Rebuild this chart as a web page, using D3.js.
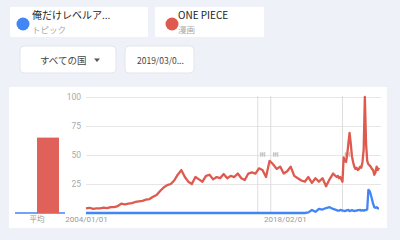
<!DOCTYPE html>
<html><head><meta charset="utf-8">
<script src="https://cdn.jsdelivr.net/npm/d3@7"></script>
<style>
html,body{margin:0;padding:0;background:#eef1f8;}
svg{display:block;}
</style></head>
<body>
<svg id="c" width="400" height="240"></svg>
<script>
// ---------- data ----------
const dates = [
 "2004-01","2004-04","2004-07","2004-10","2005-01","2005-04","2005-07","2005-10",
 "2006-01","2006-04","2006-07","2006-10","2007-01","2007-04","2007-07","2007-10",
 "2008-01","2008-04","2008-07","2008-10","2009-01","2009-04","2009-07","2009-10",
 "2010-01","2010-04","2010-07","2010-10","2011-01","2011-04","2011-07","2011-10",
 "2012-01","2012-04","2012-07","2012-10","2013-01","2013-04","2013-07","2013-10",
 "2014-01","2014-04","2014-07","2014-10","2015-01","2015-04","2015-07","2015-10",
 "2016-01","2016-04","2016-07","2016-10","2017-01","2017-04","2017-07","2017-10",
 "2018-01","2018-04","2018-07","2018-10","2019-01","2019-04","2019-07","2019-10",
 "2020-01","2020-04","2020-07","2020-10","2021-01","2021-04","2021-07",
 "2021-10","2021-11","2021-12",
 "2022-01","2022-02","2022-03","2022-04","2022-05","2022-06","2022-07","2022-08","2022-09","2022-10","2022-11","2022-12",
 "2023-01","2023-02","2023-03","2023-04","2023-05","2023-06","2023-07","2023-08","2023-09","2023-10","2023-11","2023-12",
 "2024-01","2024-02","2024-03","2024-04","2024-05","2024-06","2024-07","2024-08","2024-09","2024-10"
];
const onePiece = [
 4,4.5,3.5,4, 4,4.6,4.2,5, 5,6,8,7.5, 8,8.5,9.5,10, 10.5,11.5,12,14,
 15.5,19,22,24, 25,28,33,37, 31,27,25,31, 29,27,32,33, 29,31,30,33.6,
 30,32,31,34, 30,28.5,34,35, 34,38.5,37,31, 45,42,38,40, 34,36,40,32,
 30,28,27,31, 26,30,27,30, 23,29,34,
 31,32,30,
 31,29,27,48,45,44,50,60,69,60,49,44,
 40,38,39,37,38,40,39,44,55,100,60,45,
 42,41,40,38,37,33,35,40,37,39
];
const soloLeveling = [
 0,0,0,0, 0,0,0,0, 0,0,0,0, 0,0,0,0, 0,0,0,0,
 0,0,0,0, 0,0,0,0, 0,0,0,0, 0,0,0,0, 0,0,0,0,
 0,0,0,0, 0,0,0,0, 0,0,0,0, 0,0,0,0, 0,0,0,0,
 0,0,0,0.5, 2.6,1,3.5,3, 4.3,5,3.5,
 2.5,2,2,
 2.6,2.5,2,2,1.7,2,2.5,2.6,1.7,2,2.5,2,
 1.7,2,2,2.5,2.5,2.6,2,2.5,2,2.5,2.6,3,
 20,19,16,12,8,5,4.5,5,4,4
];
const seriesNames = ["俺だけレベルア...", "ONE PIECE"];
const seriesTypes = ["トピック", "漫画"];
const seriesColors = ["#4285f4", "#de5a4e"];
const averages = [0, 65];
const avgLabel = "平均";
const yTicks = [25, 50, 75, 100];
const xTickDates = ["2004-01-01", "2018-02-01"];
const noteDates = ["2016-03-01", "2017-02-01", "2022-03-01"];
const filterLabels = ["すべての国", "2019/03/0..."];

// ---------- drawing ----------
const svg = d3.select("#c");
const parseM = d3.timeParse("%Y-%m");
const parseD = d3.timeParse("%Y-%m-%d");
const fmt = d3.timeFormat("%Y/%m/%d");
const jp = "'Noto Sans CJK JP', Roboto, sans-serif";

// legend cards
const cardX = [10, 155], cardW = [138, 109];
seriesNames.forEach((n, i) => {
  const g = svg.append("g").attr("transform", `translate(${cardX[i]},7)`);
  g.append("rect").attr("width", cardW[i]).attr("height", 30).attr("fill", "#fff").attr("rx", 1);
  g.append("circle").attr("cx", 13 + (i ? 4 : 0)).attr("cy", 17).attr("r", 6.5).attr("fill", seriesColors[i]);
  g.append("text").attr("x", 22 + (i ? 1 : 0)).attr("y", 12).attr("font-family", jp).attr("font-size", 10)
    .attr("fill", "#222").text(n);
  g.append("text").attr("x", 22 + (i ? 1 : 0)).attr("y", 26).attr("font-family", jp).attr("font-size", 8.5)
    .attr("fill", "#aaa").text(seriesTypes[i]);
});

// filter chips
const chipX = [20, 125], chipW = [96, 69];
filterLabels.forEach((t, i) => {
  const g = svg.append("g").attr("transform", `translate(${chipX[i]},46)`);
  g.append("rect").attr("width", chipW[i]).attr("height", 27).attr("rx", 4)
    .attr("fill", "#fff").attr("stroke", "#e3e5ea");
  g.append("text").attr("x", i ? 12 : 20).attr("y", 17.5).attr("font-family", jp)
    .attr("font-size", i ? 8.5 : 9.5).attr("fill", "#444").text(t);
  if (i === 0) g.append("path").attr("d", "M74,12.5 L80,12.5 L77,16 Z").attr("fill", "#555");
});

// chart card
svg.append("rect").attr("x", 9).attr("y", 87).attr("width", 378).attr("height", 141).attr("fill", "#fff");

const x = d3.scaleTime().domain([parseM("2004-01"), parseM("2024-10")]).range([86, 379]);
const y = d3.scaleLinear().domain([0, 100]).range([213, 97]);

// y axis + gridlines
const yAx = svg.append("g").attr("transform", "translate(86,0)")
  .call(d3.axisLeft(y).tickValues(yTicks).tickSize(-295).tickPadding(5));
yAx.select(".domain").remove();
yAx.selectAll("line").attr("stroke", "#e6e6e6");
yAx.selectAll("text").attr("fill", "#aaa").attr("font-family", "Roboto, sans-serif").attr("font-size", 8.5);

// note lines
noteDates.forEach(d => {
  const xx = x(parseD(d));
  svg.append("line").attr("x1", xx).attr("x2", xx).attr("y1", 96).attr("y2", 213)
    .attr("stroke", "#ddd");
  svg.append("path").attr("d", `M${xx+2},154 h5 M${xx+3},152 v5 M${xx+5},152 v5 M${xx+7},152 v5`)
    .attr("stroke", "#aaa").attr("stroke-width", 0.7).attr("fill", "none");
});

// x axis labels
const xAx = svg.append("g").attr("transform", "translate(0,213)")
  .call(d3.axisBottom(x).tickValues(xTickDates.map(parseD)).tickFormat(fmt).tickSize(0).tickPadding(3));
xAx.select(".domain").remove();
xAx.selectAll("text").attr("fill", "#999").attr("font-family", "Roboto, sans-serif").attr("font-size", 8);

// average bars
const band = d3.scaleBand().domain([avgLabel]).range([15, 59]);
const sub = d3.scaleBand().domain([0, 1]).range([0, band.bandwidth()]);
svg.append("line").attr("x1", 15).attr("x2", 65).attr("y1", y(0)).attr("y2", y(0))
  .attr("stroke", seriesColors[0]).attr("stroke-width", 1.5);
averages.forEach((v, i) => {
  if (v > 0) svg.append("rect").attr("x", band(avgLabel) + sub(i)).attr("width", sub.bandwidth())
    .attr("y", y(v)).attr("height", y(0) - y(v)).attr("fill", "#e0605a");
});
svg.append("text").attr("x", band(avgLabel) + band.bandwidth() / 2).attr("y", 222).attr("text-anchor", "middle")
  .attr("font-family", jp).attr("font-size", 7.5).attr("fill", "#999").text(avgLabel);

// lines
const mk = vals => d3.line().x((d, i) => x(parseM(dates[i]))).y(d => y(d))(vals);
[soloLeveling, onePiece].forEach((vals, i) => {
  svg.append("path").attr("d", mk(vals)).attr("fill", "none")
    .attr("stroke", seriesColors[i]).attr("stroke-width", 2.3).attr("stroke-linejoin", "round");
});
</script>
</body></html>
